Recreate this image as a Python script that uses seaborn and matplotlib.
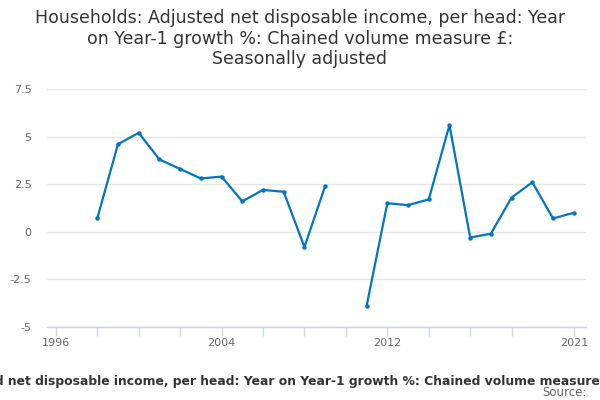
import numpy as np
import pandas as pd
import matplotlib
matplotlib.use("Agg")
import matplotlib.pyplot as plt
import seaborn as sns

# values (2010 has no value)
years = list(range(1998, 2022))
growth = [0.7, 4.6, 5.2, 3.8, 3.3, 2.8, 2.9, 1.6, 2.2, 2.1, -0.8, 2.4,
          np.nan, -3.9, 1.5, 1.4, 1.7, 5.6, -0.3, -0.1, 1.8, 2.6, 0.7, 1.0]

y_ticks = [-5, -2.5, 0, 2.5, 5, 7.5]
y_tick_labels = ["-5", "-2.5", "0", "2.5", "5", "7.5"]
x_minor = list(range(1996, 2019, 2)) + [2021]
x_labels = [1996, 2004, 2012, 2021]

title = ("Households: Adjusted net disposable income, per head: Year\n"
         "on Year-1 growth %: Chained volume measure £:\nSeasonally adjusted")
footer = ("Households: Adjusted net disposable income, per head: Year on Year-1 "
          "growth %: Chained volume measure £: Seasonally adjusted")

df = pd.DataFrame({"year": years, "growth": growth})
# split the series where a value is missing so the line shows a gap
df["segment"] = df["growth"].isna().cumsum()
df = df.dropna()

sns.set_theme(style="white")
plt.rcParams["font.family"] = ["DejaVu Sans"]

fig = plt.figure(figsize=(6, 4), dpi=100)
ax = fig.add_axes([0.078, 0.1825, 0.899, 0.595])

line_col = "#0076c0"
sns.lineplot(data=df, x="year", y="growth", units="segment", estimator=None,
             color=line_col, linewidth=1.6, marker="o", markersize=3.2,
             markeredgewidth=0, ax=ax)

ax.set_xlim(1995.565, 2021.6)
ax.set_ylim(-5, 7.5)
ax.set_yticks(y_ticks)
ax.set_yticklabels(y_tick_labels)
ax.yaxis.grid(True, color="#e6e6e6", linewidth=1)
ax.set_axisbelow(True)
ax.tick_params(axis="y", left=False, length=0, labelsize=8,
               labelcolor="#666666", pad=11)

ax.set_xticks(x_minor, minor=True)
ax.set_xticks(x_labels)
ax.set_xticklabels([str(x) for x in x_labels])
ax.tick_params(axis="x", which="both", bottom=True, direction="out",
               length=6.8, color="#ccd6eb", width=1, labelsize=8,
               labelcolor="#666666", pad=1.2)

for side in ["top", "right", "left"]:
    ax.spines[side].set_visible(False)
ax.spines["bottom"].set_color("#ccd6eb")
ax.spines["bottom"].set_linewidth(1)
ax.set_xlabel("")
ax.set_ylabel("")

fig.text(0.5, 0.978, title, ha="center", va="top", fontsize=12.5,
         color="#333333", linespacing=1.2)
fig.text(0.512, 0.045, footer, ha="center", va="center", fontsize=8.95,
         fontweight="bold", color="#333333")
fig.text(0.978, 0.018, "Source:", ha="right", va="center", fontsize=8.5,
         color="#666666")

fig.savefig("out.png", dpi=100)
